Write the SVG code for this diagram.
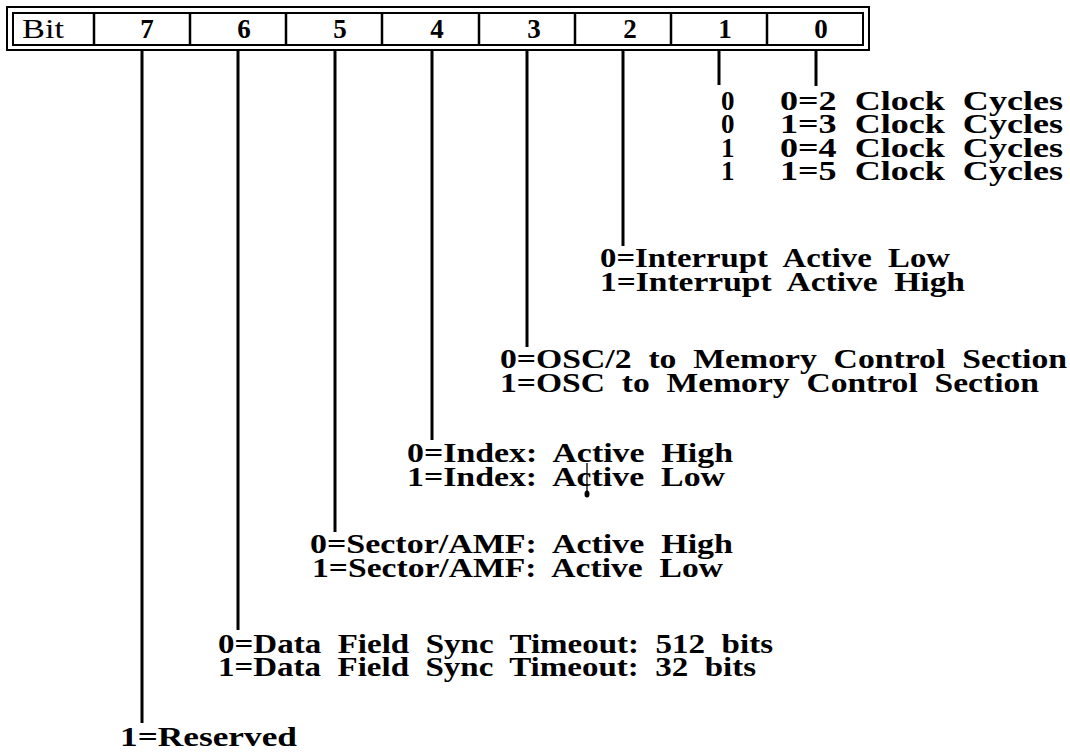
<svg xmlns="http://www.w3.org/2000/svg" width="1070" height="752" viewBox="0 0 1070 752">
<style>
.t{font-family:"Liberation Serif","Times New Roman",serif;font-weight:bold;font-size:27px;fill:#000;white-space:pre}
.r{font-weight:normal}
.hd{text-anchor:middle}
.box{fill:none;stroke:#000;stroke-width:2}
.div{stroke:#000;stroke-width:2.5}
.conn line{stroke:#000;stroke-width:3}
</style>
<rect width="1070" height="752" fill="#fff"/>
<g id="register">
<rect class="box" x="7" y="7" width="862" height="43"/>
<rect class="box" x="13" y="13" width="850" height="32"/>
<line class="div" x1="94" y1="13" x2="94" y2="45"/>
<line class="div" x1="190" y1="13" x2="190" y2="45"/>
<line class="div" x1="286" y1="13" x2="286" y2="45"/>
<line class="div" x1="382" y1="13" x2="382" y2="45"/>
<line class="div" x1="479" y1="13" x2="479" y2="45"/>
<line class="div" x1="575" y1="13" x2="575" y2="45"/>
<line class="div" x1="671" y1="13" x2="671" y2="45"/>
<line class="div" x1="767" y1="13" x2="767" y2="45"/>
<text class="t r" x="22" y="38" textLength="42" lengthAdjust="spacingAndGlyphs">Bit</text>
<text class="t hd" x="147" y="38">7</text>
<text class="t hd" x="244" y="38">6</text>
<text class="t hd" x="340" y="38">5</text>
<text class="t hd" x="437" y="38">4</text>
<text class="t hd" x="534" y="38">3</text>
<text class="t hd" x="630" y="38">2</text>
<text class="t hd" x="725" y="38">1</text>
<text class="t hd" x="821" y="38">0</text>
</g>
<g class="conn" id="connectors">
<line x1="142" y1="50" x2="142" y2="723"/>
<line x1="238" y1="50" x2="238" y2="630"/>
<line x1="335" y1="50" x2="335" y2="532"/>
<line x1="432" y1="50" x2="432" y2="440"/>
<line x1="527" y1="50" x2="527" y2="347"/>
<line x1="623" y1="50" x2="623" y2="246"/>
<line x1="719" y1="50" x2="719" y2="85"/>
<line x1="816" y1="50" x2="816" y2="86"/>
</g>
<g id="bits1-0">
<text class="t" x="721" y="110">0</text>
<text class="t" x="721" y="133">0</text>
<text class="t" x="721" y="157">1</text>
<text class="t" x="721" y="180">1</text>
<text class="t" x="780" y="110" textLength="283" lengthAdjust="spacingAndGlyphs">0=2  Clock  Cycles</text>
<text class="t" x="780" y="133" textLength="283" lengthAdjust="spacingAndGlyphs">1=3  Clock  Cycles</text>
<text class="t" x="780" y="157" textLength="283" lengthAdjust="spacingAndGlyphs">0=4  Clock  Cycles</text>
<text class="t" x="780" y="180" textLength="283" lengthAdjust="spacingAndGlyphs">1=5  Clock  Cycles</text>
</g>
<g id="bit2">
<text class="t" x="600" y="267" textLength="350" lengthAdjust="spacingAndGlyphs">0=Interrupt  Active  Low</text>
<text class="t" x="600" y="291" textLength="365" lengthAdjust="spacingAndGlyphs">1=Interrupt  Active  High</text>
</g>
<g id="bit3">
<text class="t" x="500" y="368" textLength="567" lengthAdjust="spacingAndGlyphs">0=OSC/2  to  Memory  Control  Section</text>
<text class="t" x="500" y="392" textLength="539" lengthAdjust="spacingAndGlyphs">1=OSC  to  Memory  Control  Section</text>
</g>
<g id="bit4">
<text class="t" x="407" y="462" textLength="326" lengthAdjust="spacingAndGlyphs">0=Index:  Active  High</text>
<text class="t" x="407" y="486" textLength="318" lengthAdjust="spacingAndGlyphs">1=Index:  Active  Low</text>
<line x1="587" y1="463" x2="587" y2="493" stroke="#000" stroke-width="1.3"/>
<ellipse cx="587" cy="494" rx="2.5" ry="3.5" fill="#000"/>
</g>
<g id="bit5">
<text class="t" x="310" y="553" textLength="423" lengthAdjust="spacingAndGlyphs">0=Sector/AMF:  Active  High</text>
<text class="t" x="312" y="577" textLength="411" lengthAdjust="spacingAndGlyphs">1=Sector/AMF:  Active  Low</text>
</g>
<g id="bit6">
<text class="t" x="218" y="653" textLength="555" lengthAdjust="spacingAndGlyphs">0=Data  Field  Sync  Timeout:  512  bits</text>
<text class="t" x="218" y="676" textLength="538" lengthAdjust="spacingAndGlyphs">1=Data  Field  Sync  Timeout:  32  bits</text>
</g>
<g id="bit7">
<text class="t" x="120" y="746" textLength="177" lengthAdjust="spacingAndGlyphs">1=Reserved</text>
</g>
</svg>
